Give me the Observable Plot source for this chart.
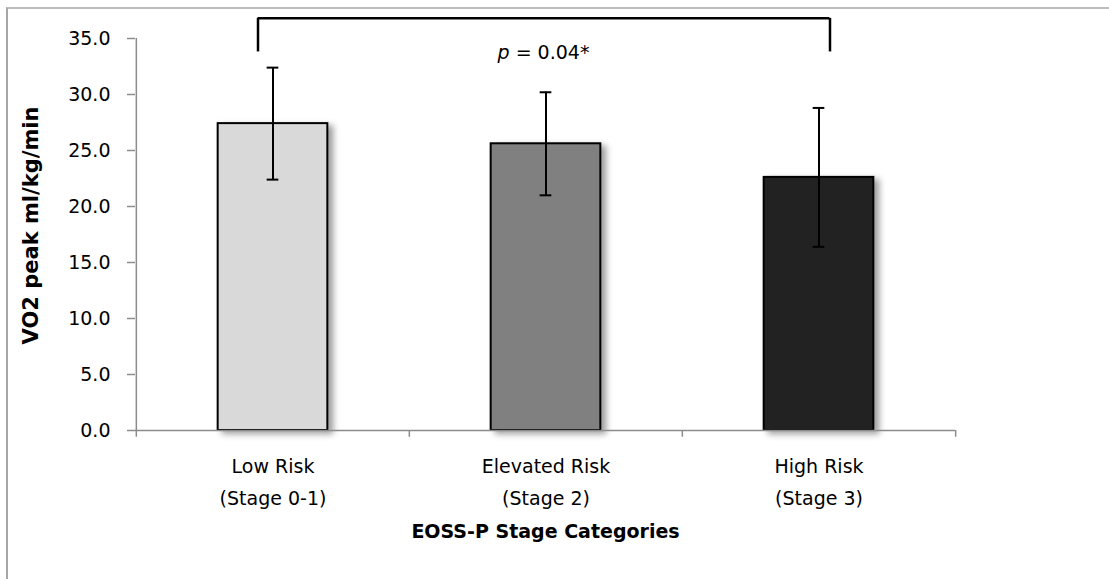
<!DOCTYPE html>
<html>
<head>
<meta charset="utf-8">
<script src="https://cdn.jsdelivr.net/npm/d3@7"></script>
<script src="https://cdn.jsdelivr.net/npm/@observablehq/plot@0.6"></script>
<style>
  html, body { margin: 0; padding: 0; background: #fff; }
  #wrap { position: relative; width: 1109px; height: 579px; overflow: hidden; }
  #border { position: absolute; left: 6px; top: 7px; right: -10px; bottom: -10px;
            border-top: 2px solid #bdbdbd; border-left: 2px solid #a6a6a6; pointer-events: none; }
  g[aria-label="bar"] rect { filter: drop-shadow(5px 3px 3px rgba(0,0,0,0.38)); }
</style>
</head>
<body>
<div id="wrap"><div id="border"></div></div>
<script>
// ---- data ----
const categories = ["Low Risk\n(Stage 0-1)", "Elevated Risk\n(Stage 2)", "High Risk\n(Stage 3)"];
const means = [27.4, 25.6, 22.6];
const sds = [5.0, 4.6, 6.2];
const colors = ["#d9d9d9", "#808080", "#222222"];
const yTicks = [0, 5, 10, 15, 20, 25, 30, 35];
const yLabel = "VO2 peak ml/kg/min";
const xLabel = "EOSS-P Stage Categories";
const pText = "p = 0.04*";
// significance bracket between first and last category
const bracketFrom = categories[0];
const bracketTo = categories[2];
const bracketLow = 33.8;
const bracketHigh = 36.8;

const data = categories.map((c, i) => ({cat: c, mean: means[i], sd: sds[i], color: colors[i]}));

const W = 1109, H = 579;
const mL = 135, mR = 154, mT = 38, mB = 149;
const bw = (W - mL - mR) / categories.length;
const barW = 110, capW = 12;
const FONT = "'DejaVu Sans', sans-serif";
const FS = 19;
const legL = -15, legR = 11;

const chart = Plot.plot({
  width: W, height: H,
  marginLeft: mL, marginRight: mR, marginTop: mT, marginBottom: mB,
  style: {fontFamily: FONT, fontSize: FS + "px", color: "#000", background: "transparent", overflow: "visible"},
  x: {domain: categories, padding: 0, axis: null},
  y: {domain: [0, 35], axis: null},
  color: {type: "identity"},
  marks: [
    Plot.barY(data, {x: "cat", y: "mean", fill: "color", stroke: "#000", strokeWidth: 2,
      insetLeft: (bw - barW) / 2, insetRight: (bw - barW) / 2}),
    // error bars
    Plot.ruleX(data, {x: "cat", y1: d => d.mean - d.sd, y2: d => d.mean + d.sd, stroke: "#000", strokeWidth: 2}),
    Plot.tickY(data, {x: "cat", y: d => d.mean - d.sd, stroke: "#000", strokeWidth: 2,
      insetLeft: (bw - capW) / 2, insetRight: (bw - capW) / 2}),
    Plot.tickY(data, {x: "cat", y: d => d.mean + d.sd, stroke: "#000", strokeWidth: 2,
      insetLeft: (bw - capW) / 2, insetRight: (bw - capW) / 2}),
    // axis lines
    Plot.ruleY([0], {stroke: "#8c8c8c", strokeWidth: 1.5}),
    Plot.ruleX([categories[0]], {dx: -bw / 2, y1: 35, y2: 0, stroke: "#8c8c8c", strokeWidth: 1.5}),
    // x boundary ticks
    Plot.ruleX(categories, {x: d => d, dx: -bw / 2, y1: 0, y2: -0.6, stroke: "#8c8c8c", strokeWidth: 1.5}),
    Plot.ruleX([categories[categories.length - 1]], {x: d => d, dx: bw / 2, y1: 0, y2: -0.6, stroke: "#8c8c8c", strokeWidth: 1.5}),
    // y axis
    Plot.axisY({ticks: yTicks, tickFormat: d => d.toFixed(1), tickSize: 8, tickPadding: 17,
      stroke: "#8c8c8c", strokeWidth: 1.5, label: null, fill: "#000", fontSize: FS}),
    // x axis labels
    Plot.axisX({tickSize: 0, tickPadding: 20, label: null, lineHeight: 1.68, fill: "#000", fontSize: FS}),
    // significance bracket
    Plot.ruleX([bracketFrom], {x: d => d, y1: bracketLow, y2: bracketHigh, dx: legL, stroke: "#000", strokeWidth: 2.5}),
    Plot.ruleX([bracketTo], {x: d => d, y1: bracketLow, y2: bracketHigh, dx: legR, stroke: "#000", strokeWidth: 2.5}),
    Plot.ruleY([bracketHigh], {y: d => d, x1: () => bracketFrom, x2: () => bracketTo,
      insetLeft: bw / 2 + legL, insetRight: bw / 2 - legR, stroke: "#000", strokeWidth: 2.5}),
    Plot.text([pText], {frameAnchor: "top", dx: -2, dy: 7, fontSize: FS, fill: "#000"}),
    // axis titles
    Plot.text([yLabel], {frameAnchor: "left", textAnchor: "middle", rotate: -90, dx: -104, dy: -9, fontWeight: "bold", fontSize: 21, fill: "#000"}),
    Plot.text([xLabel], {frameAnchor: "bottom", dy: 107, fontWeight: "bold", fontSize: FS, fill: "#000"})
  ]
});
document.getElementById("wrap").prepend(chart);

// italic p in the p-value annotation
d3.select(chart).selectAll("text").filter(function() { return this.textContent === pText; })
  .each(function() {
    const t = d3.select(this);
    t.text(null);
    t.append("tspan").attr("font-style", "italic").text("p");
    t.append("tspan").text(pText.slice(1));
  });
</script>
</body>
</html>
